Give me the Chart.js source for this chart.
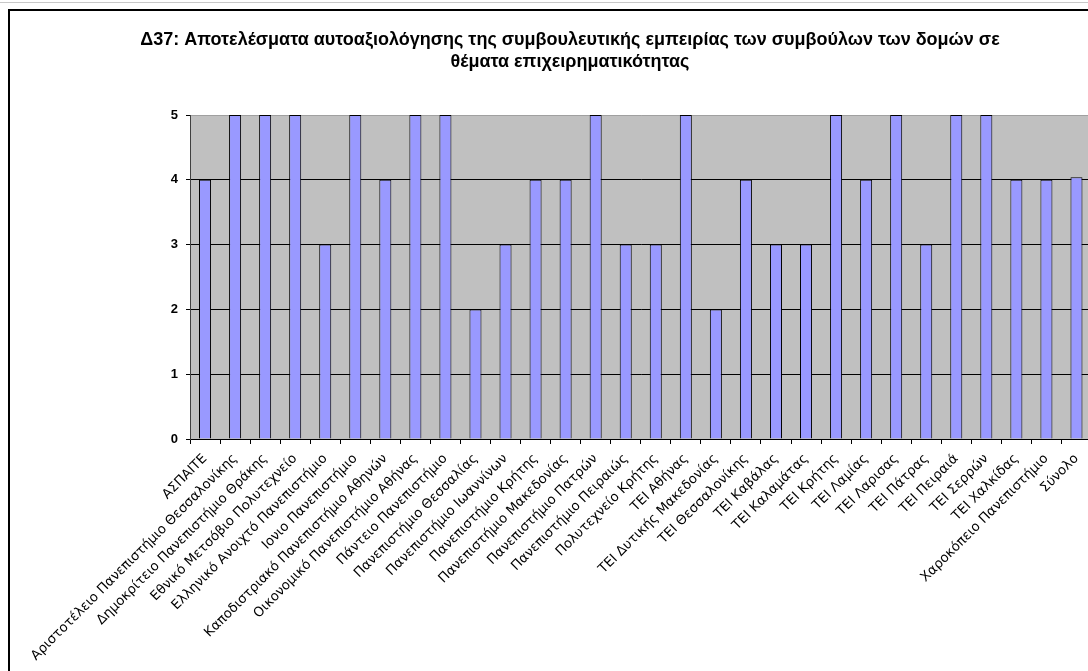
<!DOCTYPE html>
<html>
<head>
<meta charset="utf-8">
<script src="https://cdn.jsdelivr.net/npm/chart.js@4.4.1/dist/chart.umd.min.js"></script>
<style>
  html, body { margin: 0; padding: 0; background: #fff; width: 1088px; height: 671px; overflow: hidden; }
  #topline { position: absolute; left: 0; top: 2px; width: 1088px; height: 1px; background: #c8c8c8; }
  #frame { position: absolute; left: 8px; top: 9px; border-left: 2px solid #000; border-top: 2px solid #000; width: 1130px; height: 720px; }
  #c { position: absolute; left: 0; top: 0; }
</style>
</head>
<body>
<div id="topline"></div>
<div id="frame"><canvas id="c" width="1120" height="700"></canvas></div>
<script>
const titleLines = [
  "Δ37: Αποτελέσματα αυτοαξιολόγησης της συμβουλευτικής εμπειρίας των συμβούλων των δομών σε",
  "θέματα επιχειρηματικότητας"
];
const categories = [
  "ΑΣΠΑΙΤΕ",
  "Αριστοτέλειο Πανεπιστήμιο Θεσσαλονίκης",
  "Δημοκρίτειο Πανεπιστήμιο Θράκης",
  "Εθνικό Μετσόβιο Πολυτεχνείο",
  "Ελληνικό Ανοιχτό Πανεπιστήμιο",
  "Ιονιο Πανεπιστήμιο",
  "Καποδιστριακό Πανεπιστήμιο Αθηνών",
  "Οικονομικό Πανεπιστήμιο Αθήνας",
  "Πάντειο Πανεπιστήμιο",
  "Πανεπιστήμιο Θεσσαλίας",
  "Πανεπιστήμιο Ιωαννίνων",
  "Πανεπιστήμιο Κρήτης",
  "Πανεπιστήμιο Μακεδονίας",
  "Πανεπιστήμιο Πατρών",
  "Πανεπιστήμιο Πειραιώς",
  "Πολυτεχνείο Κρήτης",
  "ΤΕΙ Αθήνας",
  "ΤΕΙ Δυτικής Μακεδονίας",
  "ΤΕΙ Θεσσαλονίκης",
  "ΤΕΙ Καβάλας",
  "ΤΕΙ Καλαμάτας",
  "ΤΕΙ Κρήτης",
  "ΤΕΙ Λαμίας",
  "ΤΕΙ Λαρισας",
  "ΤΕΙ Πάτρας",
  "ΤΕΙ Πειραιά",
  "ΤΕΙ Σερρών",
  "ΤΕΙ Χαλκίδας",
  "Χαροκόπειο Πανεπιστήμιο",
  "Σύνολο"
];
const values = [4, 5, 5, 5, 3, 5, 4, 5, 5, 2, 3, 4, 4, 5, 3, 3, 5, 2, 4, 3, 3, 5, 4, 5, 3, 5, 5, 4, 4, 4.04];
const yTicks = [0, 1, 2, 3, 4, 5];

const plotBg = {
  id: 'plotBg',
  beforeDraw(chart) {
    const a = chart.chartArea, ctx = chart.ctx;
    ctx.save();
    ctx.fillStyle = '#C0C0C0';
    ctx.fillRect(a.left, a.top, a.right - a.left, a.bottom - a.top);
    ctx.restore();
  }
};

new Chart(document.getElementById('c'), {
  type: 'bar',
  data: {
    labels: categories,
    datasets: [{
      data: values,
      backgroundColor: '#9999FF',
      borderColor: '#000000',
      borderWidth: 1,
      barPercentage: 0.4,
      categoryPercentage: 1.0
    }]
  },
  options: {
    responsive: false,
    animation: false,
    devicePixelRatio: 1,
    layout: { padding: 0 },
    plugins: {
      legend: { display: false },
      tooltip: { enabled: false },
      title: {
        display: true,
        text: titleLines,
        color: '#000',
        font: { family: '"Liberation Sans", Arial, sans-serif', size: 18, weight: 'bold', lineHeight: '22px' },
        padding: { top: 18, bottom: 42 }
      }
    },
    scales: {
      x: {
        grid: { display: true, drawOnChartArea: false, color: '#000', tickLength: 5, offset: true },
        border: { display: true, color: '#000', width: 1 },
        ticks: {
          autoSkip: false,
          maxRotation: 45,
          minRotation: 45,
          color: '#000',
          padding: 7,
          font: { family: '"DejaVu Sans", Verdana, sans-serif', size: 13.3 }
        },
        afterFit(scale) { scale.height = 272; }
      },
      y: {
        min: 0,
        max: 5,
        afterBuildTicks(scale) { scale.ticks = yTicks.map(v => ({ value: v })); },
        grid: {
          color: (ctx) => (ctx.tick && ctx.tick.value === 5 ? '#A0A0A0' : '#000'),
          tickColor: '#000',
          tickLength: 4
        },
        border: { display: true, color: '#404040', width: 1 },
        ticks: {
          color: '#000',
          padding: 8,
          font: { family: '"Liberation Sans", Arial, sans-serif', size: 13, weight: 'bold' }
        },
        afterFit(scale) { scale.width = 180; }
      },
      spacer: {
        type: 'linear',
        position: 'right',
        display: true,
        grid: { display: false, drawTicks: false },
        border: { display: false },
        ticks: { display: false },
        afterFit(scale) { scale.width = 38.5; }
      }
    }
  },
  plugins: [plotBg]
});
</script>
</body>
</html>
